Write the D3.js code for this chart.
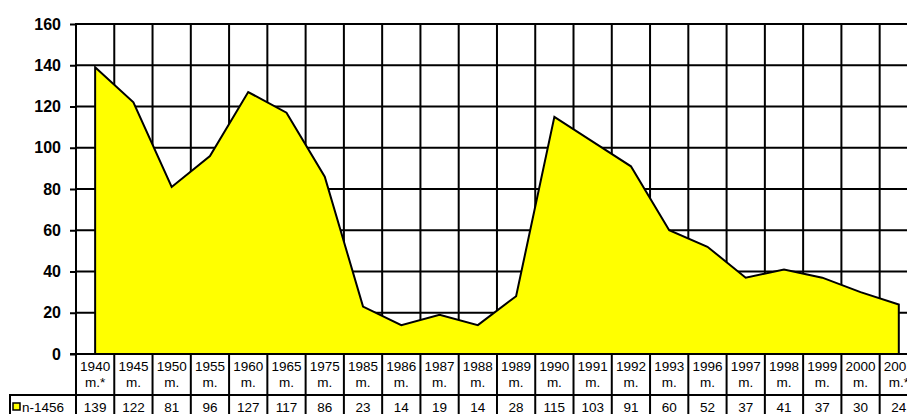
<!DOCTYPE html>
<html>
<head>
<meta charset="utf-8">
<script src="https://cdn.jsdelivr.net/npm/d3@7"></script>
<style>
  html, body { margin: 0; padding: 0; background: #fff; }
  svg { display: block; }
  text { font-family: "Liberation Sans", Arial, sans-serif; fill: #000; }
</style>
</head>
<body>
<svg id="chart" width="907" height="414"></svg>
<script>
const categories = ["1940","1945","1950","1955","1960","1965","1975","1985","1986","1987","1988","1989","1990","1991","1992","1993","1996","1997","1998","1999","2000","2001"];
const categorySuffix = ["m.*","m.","m.","m.","m.","m.","m.","m.","m.","m.","m.","m.","m.","m.","m.","m.","m.","m.","m.","m.","m.","m.*"];
const values = [139,122,81,96,127,117,86,23,14,19,14,28,115,103,91,60,52,37,41,37,30,24];
const yTicks = [0,20,40,60,80,100,120,140,160];
const seriesName = "n-1456";

(function draw() {
const svg = d3.select("#chart");
const pLeft = 76, pTop = 24, pBottom = 354, band = 38.27;
const pRight = pLeft + categories.length * band;

const x = d3.scaleBand().domain(categories).range([pLeft, pRight]).padding(0);
const y = d3.scaleLinear().domain([0, 160]).range([pBottom, pTop]);

// gridlines
const grid = svg.append("g").attr("stroke", "#000").attr("stroke-width", 2);
grid.selectAll("line.h").data(yTicks.filter(d => d > 0)).join("line")
  .attr("x1", pLeft).attr("x2", pRight)
  .attr("y1", d => y(d)).attr("y2", d => y(d));
grid.selectAll("line.v").data(categories).join("line")
  .attr("x1", (d, i) => pLeft + (i + 1) * x.bandwidth())
  .attr("x2", (d, i) => pLeft + (i + 1) * x.bandwidth())
  .attr("y1", pTop).attr("y2", pBottom);

// area
const pts = categories.map((c, i) => ({c, v: values[i]}));
const area = d3.area()
  .x(d => x(d.c) + x.bandwidth() / 2)
  .y0(y(0)).y1(d => y(d.v));
svg.append("path").datum(pts)
  .attr("d", area)
  .attr("fill", "#ffff00")
  .attr("stroke", "#000")
  .attr("stroke-width", 2)
  .attr("stroke-linejoin", "miter");

// y axis
const yAxis = d3.axisLeft(y).tickValues(yTicks).tickSize(6).tickPadding(9).tickFormat(d3.format("d"));
const ya = svg.append("g").attr("transform", `translate(${pLeft},0)`).call(yAxis);
ya.select(".domain").remove();
ya.selectAll(".tick line").attr("stroke", "#000").attr("stroke-width", 2);
ya.selectAll(".tick text")
  .style("font-family", '"Liberation Sans", Arial, sans-serif')
  .style("font-size", "16px").style("font-weight", "bold").attr("fill", "#000");

// axis lines
svg.append("line").attr("x1", pLeft).attr("x2", pLeft).attr("y1", pTop - 1).attr("y2", 414)
  .attr("stroke", "#000").attr("stroke-width", 2);
svg.append("line").attr("x1", pLeft - 6).attr("x2", pRight).attr("y1", pBottom).attr("y2", pBottom)
  .attr("stroke", "#000").attr("stroke-width", 2);

// data table
const tbl = svg.append("g");
const rowLine = 395;
tbl.append("line").attr("x1", 9).attr("x2", pRight).attr("y1", rowLine).attr("y2", rowLine)
  .attr("stroke", "#000").attr("stroke-width", 2);
tbl.append("line").attr("x1", 10).attr("x2", 10).attr("y1", rowLine).attr("y2", 414)
  .attr("stroke", "#000").attr("stroke-width", 2);
tbl.selectAll("line.col").data(categories).join("line")
  .attr("x1", (d, i) => pLeft + (i + 1) * x.bandwidth())
  .attr("x2", (d, i) => pLeft + (i + 1) * x.bandwidth())
  .attr("y1", pBottom).attr("y2", 414)
  .attr("stroke", "#000").attr("stroke-width", 2);

const fs = "13.5px";
tbl.selectAll("text.yr").data(categories).join("text")
  .attr("x", d => x(d) + x.bandwidth() / 2).attr("y", 371)
  .attr("text-anchor", "middle").style("font-size", fs).text(d => d);
tbl.selectAll("text.sf").data(categorySuffix).join("text")
  .attr("x", (d, i) => x(categories[i]) + x.bandwidth() / 2).attr("y", 387)
  .attr("text-anchor", "middle").style("font-size", fs).text(d => d);
tbl.selectAll("text.val").data(values).join("text")
  .attr("x", (d, i) => x(categories[i]) + x.bandwidth() / 2).attr("y", 412)
  .attr("text-anchor", "middle").style("font-size", fs).text(d => d);

// legend key
tbl.append("rect").attr("x", 13).attr("y", 403).attr("width", 7).attr("height", 7)
  .attr("fill", "#ffff00").attr("stroke", "#000").attr("stroke-width", 1.5);
tbl.append("text").attr("x", 22).attr("y", 412).style("font-size", fs).text(seriesName);
})();
</script>
</body>
</html>
